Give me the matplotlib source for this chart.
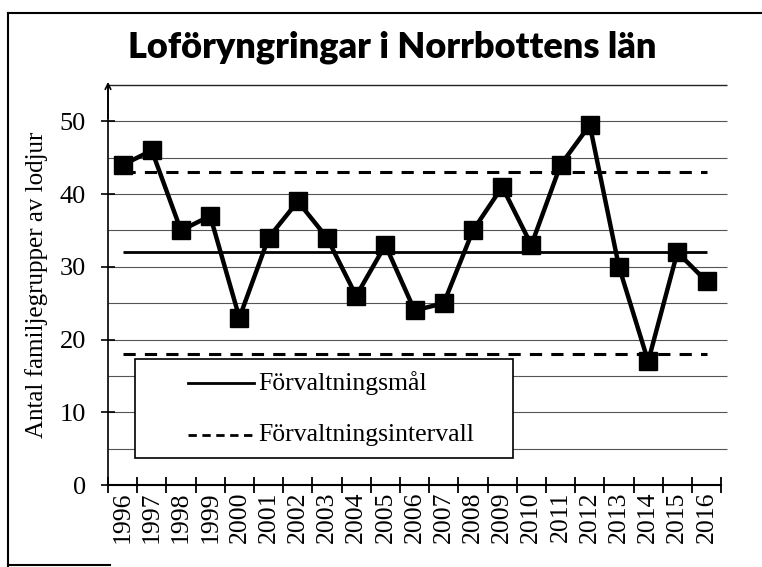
import matplotlib
matplotlib.use("Agg")
import matplotlib.pyplot as plt
from matplotlib.patches import Rectangle
from matplotlib.lines import Line2D

# data
years = [str(y) for y in range(1996, 2017)]
families = [44, 46, 35, 37, 23, 34, 39, 34, 26, 33, 24, 25, 35, 41, 33, 44, 49.5, 30, 17, 32, 28]
goal = 32
interval_low = 18
interval_high = 43
y_ticks = [0, 10, 20, 30, 40, 50]
grid_levels = list(range(5, 60, 5))

title = "Loföryngringar i Norrbottens län"
ylabel = "Antal familjegrupper av lodjur"
goal_label = "Förvaltningsmål"
interval_label = "Förvaltningsintervall"

serif = "Liberation Serif"

fig = plt.figure(figsize=(7.62, 5.67), dpi=100)
ax = fig.add_axes([108 / 762, 1 - 485 / 567, 619 / 762, 400 / 567])

x = list(range(len(years)))
ax.set_xlim(-0.5, len(years) - 0.3)
ax.set_ylim(0, 55)

# horizontal grid
for g in grid_levels:
    ax.hlines(g, -0.5, len(years) - 0.3, color="#222222" if g == 55 else "#555555",
              lw=1.0 if g == 55 else 0.8, zorder=0, clip_on=False)

# management goal and interval
ax.hlines(goal, x[0], x[-1], color="black", lw=2.0, zorder=2)
for lvl in (interval_low, interval_high):
    ax.hlines(lvl, x[0], x[-1], color="black", lw=2.2, linestyles=(0, (4, 3)), zorder=2)

ax.plot(x, families, color="black", lw=3.2, marker="s", ms=12.5, zorder=4)

# spines / axes
for side in ("top", "right"):
    ax.spines[side].set_visible(False)
ax.spines["left"].set_linewidth(1.2)
ax.spines["bottom"].set_linewidth(1.5)
ax.spines["bottom"].set_bounds(-0.5, len(years) - 0.5)
ax.annotate("", xy=(-0.5, 55.8), xytext=(-0.5, 50),
            arrowprops=dict(arrowstyle="->", lw=1.2, color="black"),
            annotation_clip=False)

ax.set_yticks(y_ticks)
ax.set_yticklabels([str(v) for v in y_ticks], family=serif, fontsize=19)
ax.tick_params(axis="y", direction="inout", length=10, width=1.2, pad=11)

ax.set_xticks([i - 0.5 for i in range(len(years) + 1)])
ax.set_xticklabels([])
ax.set_xticks(x, minor=True)
ax.set_xticklabels(years, minor=True, rotation=90, family=serif, fontsize=18.5)
ax.tick_params(axis="x", which="major", direction="inout", length=11, width=1.3)
ax.tick_params(axis="x", which="minor", length=0, pad=5)

ax.set_ylabel(ylabel, family=serif, fontsize=18, labelpad=8)

# legend box
ax.add_patch(Rectangle((0.42, 3.7), 12.95, 13.6, facecolor="white", edgecolor="black",
                       lw=1.2, zorder=3))
ax.add_line(Line2D([2.25, 4.5], [14.0, 14.0], color="black", lw=2.0, zorder=5))
ax.add_line(Line2D([2.25, 4.5], [6.9, 6.9], color="black", lw=2.0,
                   linestyle=(0, (3, 2)), zorder=5))
ax.text(4.65, 14.0, goal_label, family=serif, fontsize=18.5, va="center", zorder=5)
ax.text(4.65, 6.9, interval_label, family=serif, fontsize=18.5, va="center", zorder=5)

fig.text(392 / 762, 1 - 47 / 567, title, family="Lato", weight="heavy",
         fontsize=26, ha="center", va="center")

# outer frame of the scanned figure
fig.add_artist(Line2D([8 / 762, 8 / 762], [0.002, 1 - 13 / 567], color="black", lw=1.5))
fig.add_artist(Line2D([8 / 762, 1.0], [1 - 13 / 567, 1 - 13 / 567], color="black", lw=1.5))
fig.add_artist(Line2D([8 / 762, 110 / 762], [0.004, 0.004], color="black", lw=1.5))

fig.savefig("out.png", dpi=100)
